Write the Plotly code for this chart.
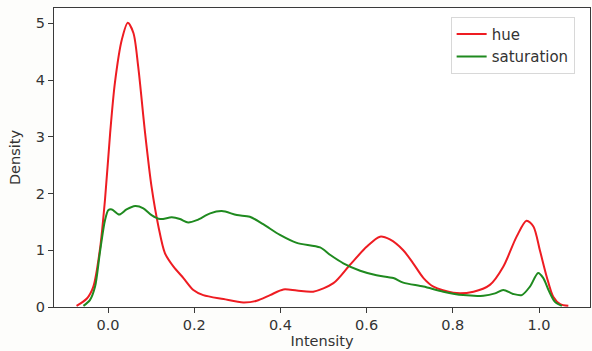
import plotly.graph_objects as go

hue_x = [-0.073, -0.049, -0.034, -0.019, -0.007, 0.005, 0.016, 0.032, 0.046, 0.059, 0.070, 0.086,
         0.101, 0.117, 0.132, 0.152, 0.175, 0.198, 0.221, 0.268, 0.314, 0.345, 0.376, 0.407,
         0.438, 0.476, 0.523, 0.561, 0.600, 0.631, 0.654, 0.685, 0.708, 0.732, 0.755, 0.801,
         0.848, 0.886, 0.917, 0.948, 0.971, 0.987, 1.002, 1.018, 1.033, 1.049, 1.068]
hue_y = [0.02, 0.15, 0.36, 1.0, 1.89, 3.07, 3.95, 4.71, 5.01, 4.83, 4.24, 3.07,
         2.12, 1.42, 0.95, 0.71, 0.51, 0.30, 0.21, 0.14, 0.08, 0.11, 0.21, 0.31,
         0.29, 0.27, 0.42, 0.74, 1.06, 1.24, 1.19, 1.0, 0.77, 0.51, 0.36, 0.25,
         0.27, 0.39, 0.71, 1.24, 1.52, 1.42, 1.0, 0.53, 0.18, 0.05, 0.02]

sat_x = [-0.057, -0.042, -0.030, -0.019, -0.007, 0.001, 0.009, 0.026, 0.043, 0.063, 0.082, 0.101,
         0.121, 0.148, 0.167, 0.186, 0.206, 0.237, 0.264, 0.299, 0.329, 0.360, 0.399, 0.438,
         0.492, 0.515, 0.546, 0.585, 0.623, 0.662, 0.685, 0.732, 0.778, 0.824, 0.871, 0.898,
         0.917, 0.940, 0.960, 0.979, 0.998, 1.010, 1.022, 1.037, 1.053]
sat_y = [0.02, 0.12, 0.36, 0.95, 1.53, 1.71, 1.72, 1.63, 1.72, 1.78, 1.74, 1.62,
         1.55, 1.58, 1.55, 1.49, 1.53, 1.65, 1.69, 1.62, 1.59, 1.46, 1.27, 1.13,
         1.05, 0.92, 0.77, 0.64, 0.56, 0.51, 0.43, 0.36, 0.27, 0.21, 0.20, 0.24,
         0.30, 0.23, 0.21, 0.36, 0.60, 0.51, 0.30, 0.09, 0.02]

x_ticks = [0.0, 0.2, 0.4, 0.6, 0.8, 1.0]
x_tick_labels = ["0.0", "0.2", "0.4", "0.6", "0.8", "1.0"]
y_ticks = [0, 1, 2, 3, 4, 5]

fig = go.Figure()
fig.add_trace(go.Scatter(x=hue_x, y=hue_y, mode="lines", name="hue",
                         line=dict(color="#ee1c22", width=2, shape="spline", smoothing=0.8)))
fig.add_trace(go.Scatter(x=sat_x, y=sat_y, mode="lines", name="saturation",
                         line=dict(color="#1f8a1f", width=2, shape="spline", smoothing=0.8)))

axis_common = dict(showgrid=False, zeroline=False, showline=True, linecolor="#3a3a3a", linewidth=1,
                   mirror=True, ticks="outside", ticklen=5, tickcolor="#3a3a3a", automargin=False,
                   tickfont=dict(family="DejaVu Sans", size=14.5, color="#333"))

fig.update_layout(
    width=592, height=351,
    margin=dict(l=54, r=2, t=8, b=44),
    paper_bgcolor="#fdfdfb", plot_bgcolor="#ffffff",
    font=dict(family="DejaVu Sans", size=14.5, color="#333"),
    xaxis=dict(range=[-0.1253, 1.1183], tickvals=x_ticks, ticktext=x_tick_labels,
               title=dict(text="Intensity", standoff=2, font=dict(size=14.5)), **axis_common),
    yaxis=dict(range=[0, 5.27], tickvals=y_ticks,
               title=dict(text="Density", standoff=11, font=dict(size=14.5)), **axis_common),
    legend=dict(x=0.74, y=0.971, xanchor="left", yanchor="top", bgcolor="#ffffff",
                bordercolor="#d8d8d8", borderwidth=1, font=dict(size=15, color="#333"),
                tracegroupgap=0),
    showlegend=True,
)

fig.write_html("out.html", config={"displayModeBar": False},
               post_script="document.body.style.margin='0';")
